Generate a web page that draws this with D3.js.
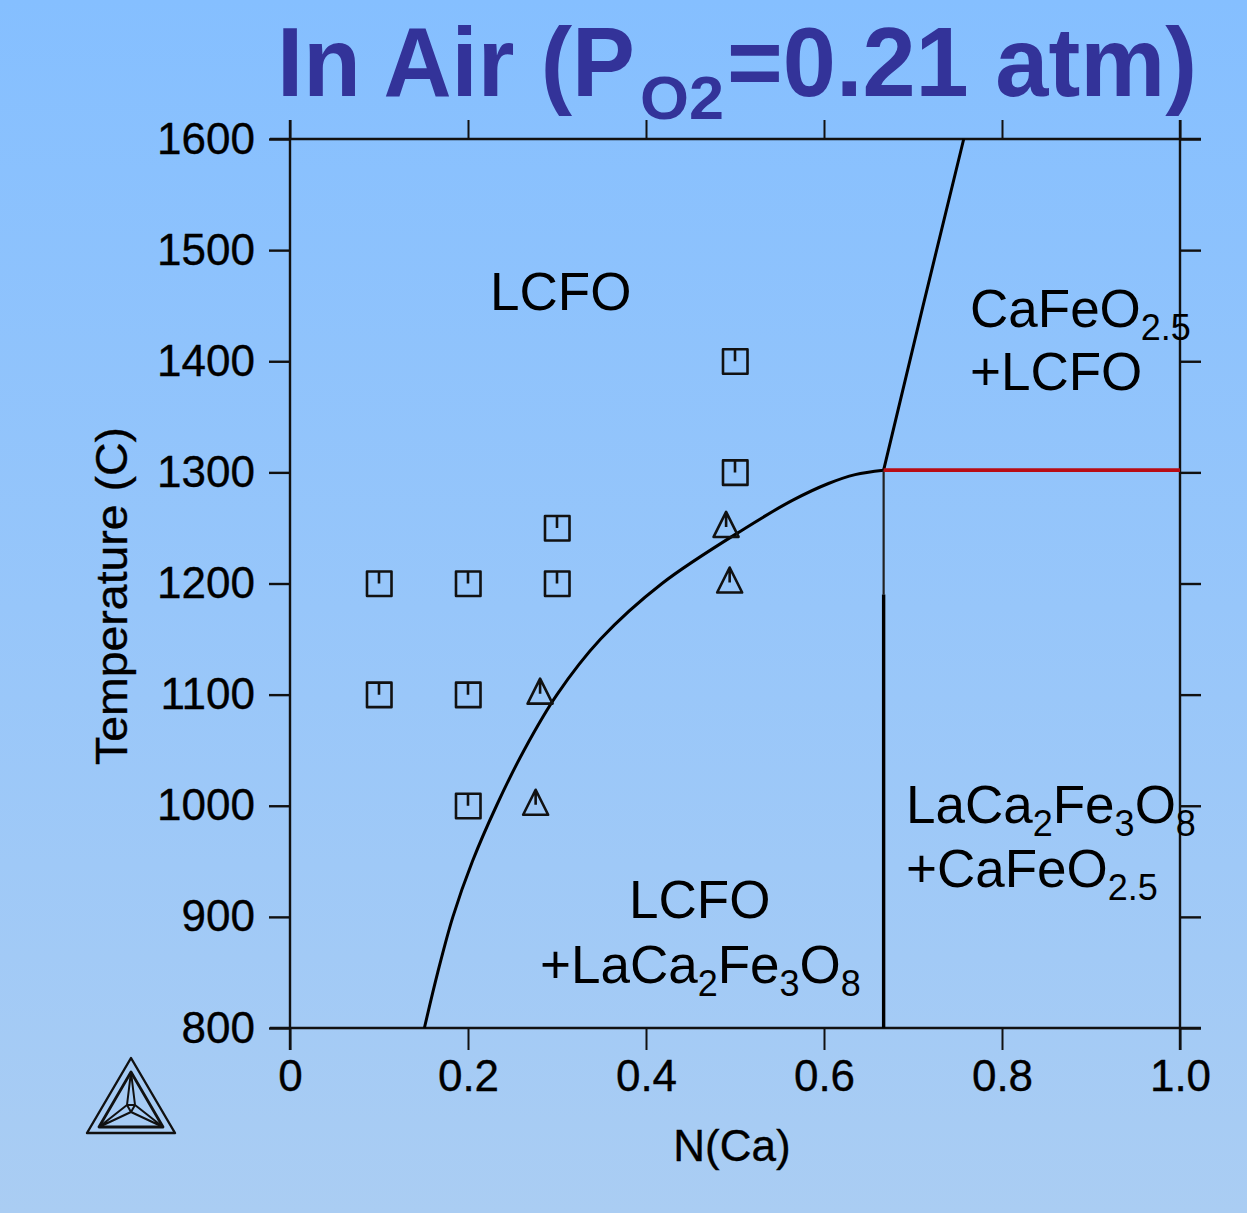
<!DOCTYPE html>
<html>
<head>
<meta charset="utf-8">
<script src="https://cdn.jsdelivr.net/npm/d3@7"></script>
<style>
html,body{margin:0;padding:0;background:#a8cdf4}
svg{display:block}
text{font-family:"Liberation Sans",Arial,sans-serif;fill:#000}
</style>
</head>
<body>
<svg id="c" width="1247" height="1213"></svg>
<script>
const xTicks = [0, 0.2, 0.4, 0.6, 0.8, 1.0];
const xTickLabels = ["0", "0.2", "0.4", "0.6", "0.8", "1.0"];
const yTicks = [800, 900, 1000, 1100, 1200, 1300, 1400, 1500, 1600];

const solvusN = [0.151, 0.166, 0.183, 0.205, 0.232, 0.263, 0.300, 0.349, 0.418, 0.512, 0.565, 0.605, 0.635, 0.667];
const solvusT = [800, 850, 900, 950, 1000, 1050, 1100, 1150, 1200, 1250, 1275, 1290, 1298, 1302];
const upperN = [0.667, 0.711, 0.757];
const upperT = [1302, 1449, 1600];
const compoundN = [0.667, 0.667];
const compoundThinT = [1302, 1190];
const compoundThickT = [1190, 800];
const eutectoidN = [0.667, 1.0];
const eutectoidT = [1302, 1302];

const squareN = [0.5, 0.5, 0.3, 0.1, 0.2, 0.3, 0.1, 0.2, 0.2];
const squareT = [1400, 1300, 1250, 1200, 1200, 1200, 1100, 1100, 1000];
const triangleN = [0.49, 0.494, 0.281, 0.276];
const triangleT = [1250, 1200, 1100, 1000];

const svg = d3.select("#c");
const defs = svg.append("defs");
const grad = defs.append("linearGradient").attr("id", "bg").attr("x1", 0).attr("y1", 0).attr("x2", 0).attr("y2", 1);
grad.append("stop").attr("offset", "0").attr("stop-color", "#85bfff");
grad.append("stop").attr("offset", "0.5").attr("stop-color", "#97c6fa");
grad.append("stop").attr("offset", "1").attr("stop-color", "#aacdf3");
svg.append("rect").attr("width", 1247).attr("height", 1213).attr("fill", "url(#bg)");

const x = d3.scaleLinear().domain([0, 1]).range([290, 1180]);
const y = d3.scaleLinear().domain([800, 1600]).range([1028, 139]);

// axes
function styleAxis(g, w) {
  g.select(".domain").remove();
  g.selectAll("line").attr("stroke", "#111").attr("stroke-width", w);
}
const labelStyle = g => g.selectAll("text").attr("font-size", 44).attr("font-family", "Liberation Sans").attr("fill", "#000").attr("stroke", "#000").attr("stroke-width", 0.35);
svg.append("g").attr("transform", "translate(0,1028)")
  .call(d3.axisBottom(x).tickValues(xTicks).tickSize(22).tickFormat((d, i) => xTickLabels[i]))
  .call(g => styleAxis(g, 2))
  .call(labelStyle)
  .call(g => g.selectAll("text").attr("y", 0).attr("dy", 63));
svg.append("g").attr("transform", "translate(0,139)")
  .call(d3.axisTop(x).tickValues(xTicks).tickSize(19).tickFormat(""))
  .call(g => styleAxis(g, 2));
svg.append("g").attr("transform", "translate(290,0)")
  .call(d3.axisLeft(y).tickValues(yTicks).tickSize(21))
  .call(g => styleAxis(g, 2.4))
  .call(labelStyle)
  .call(g => g.selectAll("text").attr("x", -35).attr("dy", "0.32em").text(d => d));
svg.append("g").attr("transform", "translate(1180,0)")
  .call(d3.axisRight(y).tickValues(yTicks).tickSize(21).tickFormat(""))
  .call(g => styleAxis(g, 2.4));
// frame
[0, 1].forEach(v => svg.append("line")
  .attr("x1", x(v)).attr("x2", x(v)).attr("y1", 120).attr("y2", 1050)
  .attr("stroke", "#111").attr("stroke-width", 2.4));
[800, 1600].forEach(v => svg.append("line")
  .attr("x1", 270).attr("x2", 1201).attr("y1", y(v)).attr("y2", y(v))
  .attr("stroke", "#111").attr("stroke-width", 2.6));

// phase boundaries
const line = d3.line().x(d => x(d[0])).y(d => y(d[1]));
const smooth = d3.line().x(d => x(d[0])).y(d => y(d[1])).curve(d3.curveCatmullRom.alpha(0.5));
const zip = (a, b) => a.map((v, i) => [v, b[i]]);
svg.append("path").attr("d", smooth(zip(solvusN, solvusT))).attr("fill", "none").attr("stroke", "#000").attr("stroke-width", 3);
svg.append("path").attr("d", line(zip(upperN, upperT))).attr("fill", "none").attr("stroke", "#000").attr("stroke-width", 3);
svg.append("path").attr("d", line(zip(compoundN, compoundThinT))).attr("fill", "none").attr("stroke", "#222").attr("stroke-width", 2.2);
svg.append("path").attr("d", line(zip(compoundN, compoundThickT))).attr("fill", "none").attr("stroke", "#000").attr("stroke-width", 3.4);
svg.append("path").attr("d", line(zip(eutectoidN, eutectoidT))).attr("fill", "none").attr("stroke", "#b80c14").attr("stroke-width", 3.6);

// markers
const gS = svg.append("g").attr("fill", "none").attr("stroke", "#111").attr("stroke-width", 2.6);
zip(squareN, squareT).forEach(([n, t]) => {
  const p = d3.path();
  p.rect(-12, -12, 24.5, 24.5);
  p.moveTo(0, -12); p.lineTo(0, 0);
  gS.append("path").attr("transform", `translate(${x(n)},${y(t)})`).attr("d", p.toString()).attr("stroke-linejoin", "round");
});
zip(triangleN, triangleT).forEach(([n, t]) => {
  const p = d3.path();
  p.moveTo(0, -16); p.lineTo(12.5, 9); p.lineTo(-12.5, 9); p.closePath();
  p.moveTo(0, -16); p.lineTo(0, -1);
  gS.append("path").attr("transform", `translate(${x(n)},${y(t)})`).attr("d", p.toString()).attr("stroke-linejoin", "round");
});

// region labels
const regionSize = 53, subSize = 36;
function chem(px, py, parts) {
  const t = svg.append("text").attr("x", px).attr("y", py).attr("font-size", regionSize);
  let low = false;
  parts.forEach(s => {
    const isSub = /^[0-9.]+$/.test(s);
    const ts = t.append("tspan").text(s).attr("font-size", isSub ? subSize : regionSize);
    if (isSub && !low) { ts.attr("dy", 13); low = true; }
    else if (!isSub && low) { ts.attr("dy", -13); low = false; }
  });
}
chem(490, 310, ["LCFO"]);
chem(970, 327, ["CaFeO", "2.5"]);
chem(970, 390, ["+LCFO"]);
chem(906, 823, ["LaCa", "2", "Fe", "3", "O", "8"]);
chem(906, 887, ["+CaFeO", "2.5"]);
chem(629, 918, ["LCFO"]);
chem(540, 983, ["+LaCa", "2", "Fe", "3", "O", "8"]);

// axis titles
svg.append("text").attr("x", 732).attr("y", 1161).attr("text-anchor", "middle").attr("font-size", 44).attr("stroke", "#000").attr("stroke-width", 0.35).text("N(Ca)");
svg.append("text").attr("transform", "translate(127,596) rotate(-90)").attr("text-anchor", "middle").attr("font-size", 44).attr("stroke", "#000").attr("stroke-width", 0.35).attr("textLength", 338).attr("lengthAdjust", "spacingAndGlyphs").text("Temperature (C)");

// title
const titleColor = "#333399";
function title(txt, px, py, size, len) {
  svg.append("text").attr("x", px).attr("y", py).attr("font-size", size).attr("font-weight", "bold")
    .style("fill", titleColor).attr("textLength", len).attr("lengthAdjust", "spacingAndGlyphs").text(txt);
}
title("In Air (P", 277, 96, 98, 358);
title("O2", 640, 119, 62, 84);
title("=0.21 atm)", 727, 96, 98, 470);

// logo
const logo = svg.append("g").attr("fill", "none").attr("stroke", "#111").attr("stroke-width", 2.4).attr("stroke-linejoin", "round");
logo.append("path").attr("d", "M131,1058L175,1133L87,1133Z");
logo.append("path").attr("d", "M131,1072L163,1127L99,1127Z").attr("stroke-width", 2.8);
logo.append("path").attr("d", "M131,1072L127,1105L99,1127L131,1112L163,1127L135,1105Z M127,1105L135,1105L131,1112Z").attr("stroke-width", 2);
</script>
</body>
</html>
